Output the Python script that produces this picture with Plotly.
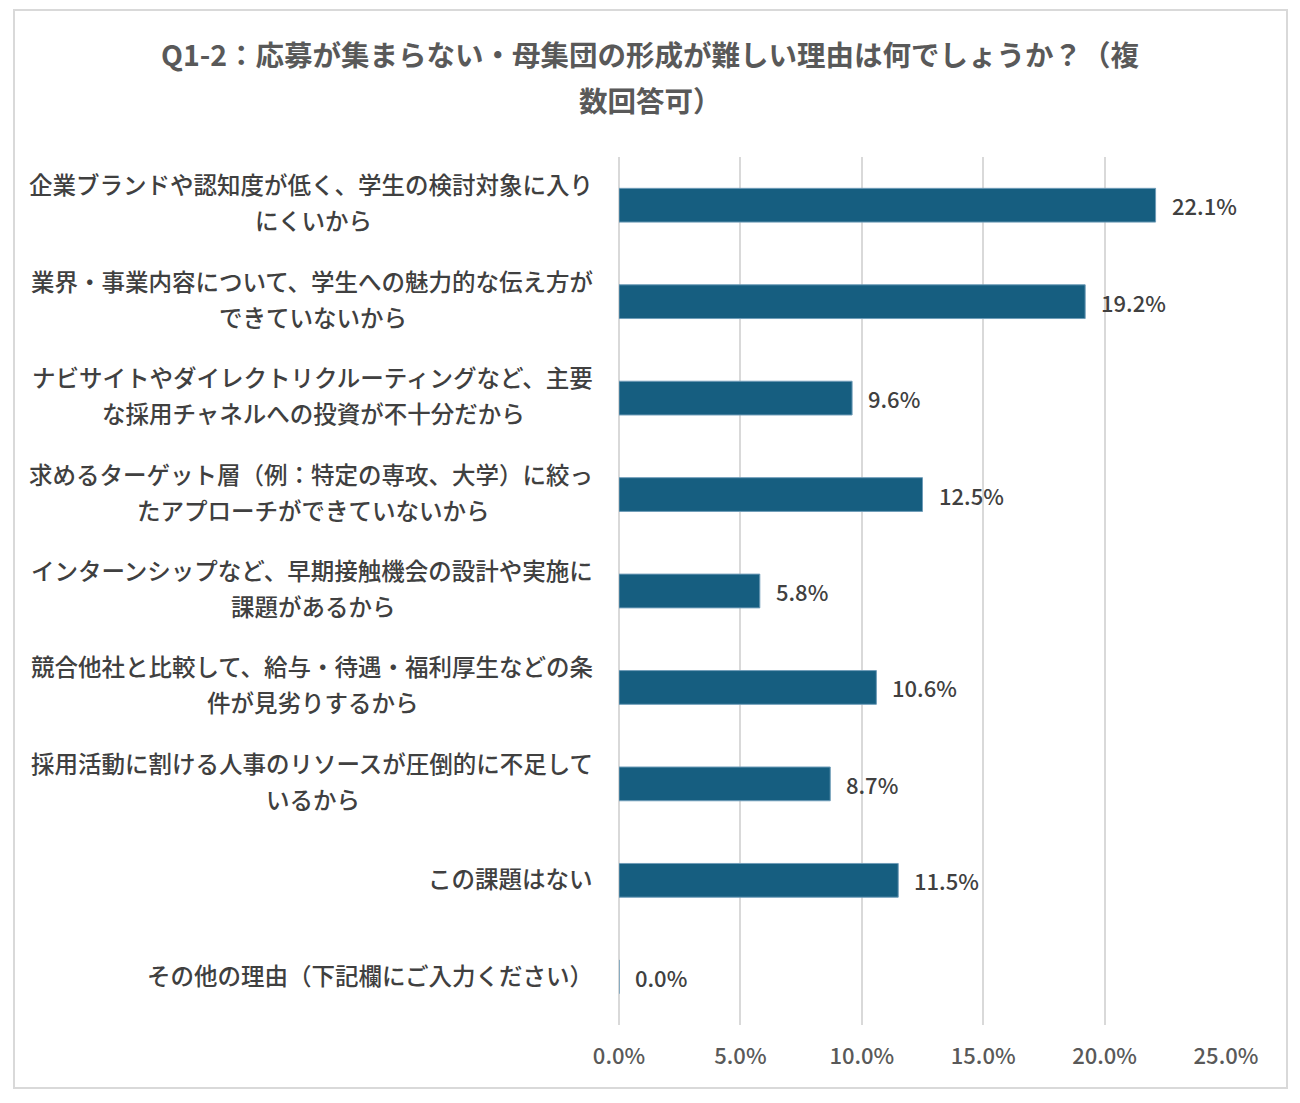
import plotly.graph_objects as go

# Data (top to bottom)
categories = [
    "企業ブランドや認知度が低く、学生の検討対象に入り<br>にくいから",
    "業界・事業内容について、学生への魅力的な伝え方が<br>できていないから",
    "ナビサイトやダイレクトリクルーティングなど、主要<br>な採用チャネルへの投資が不十分だから",
    "求めるターゲット層（例：特定の専攻、大学）に絞っ<br>たアプローチができていないから",
    "インターンシップなど、早期接触機会の設計や実施に<br>課題があるから",
    "競合他社と比較して、給与・待遇・福利厚生などの条<br>件が見劣りするから",
    "採用活動に割ける人事のリソースが圧倒的に不足して<br>いるから",
    "この課題はない",
    "その他の理由（下記欄にご入力ください）",
]
values = [22.1, 19.2, 9.6, 12.5, 5.8, 10.6, 8.7, 11.5, 0.0]
tick_vals = [0, 5, 10, 15, 20, 25]
tick_text = ["0.0%", "5.0%", "10.0%", "15.0%", "20.0%", "25.0%"]

title_lines = [
    "Q1-2：応募が集まらない・母集団の形成が難しい理由は何でしょうか？（複",
    "数回答可）",
]

FONT = "Noto Sans CJK JP"
BAR = "#165e80"
TXT = "#404040"

fig = go.Figure()
fig.add_trace(go.Bar(
    x=values,
    y=categories,
    orientation="h",
    width=0.35,
    marker=dict(color=BAR, line=dict(color="#6f9cb8", width=1)),
    hoverinfo="skip",
))

# value labels
for c, v in zip(categories, values):
    fig.add_annotation(
        x=v, y=c, xref="x", yref="y",
        text=f"{v:.1f}%", showarrow=False,
        xanchor="left", xshift=14,
        font=dict(family=FONT, size=22, color=TXT, weight=500),
    )

# category labels: first line right aligned, second line centred under it
label_font = dict(family=FONT, size=23.5, color=TXT, weight=500)
for c in categories:
    parts = c.split("<br>")
    if len(parts) == 1:
        fig.add_annotation(
            x=0, y=c, xref="paper", yref="y", text=c, showarrow=False,
            xanchor="right", xshift=-24, yshift=2, font=label_font,
        )
    else:
        fig.add_annotation(
            x=0, y=c, xref="paper", yref="y", text=parts[0], showarrow=False,
            xanchor="right", xshift=-24, yshift=21, font=label_font,
        )
        fig.add_annotation(
            x=0, y=c, xref="paper", yref="y", text=parts[1], showarrow=False,
            xanchor="center", xshift=-306, yshift=-15, font=label_font,
        )

# title, two lines
for line, ty in zip(title_lines, [1.1198, 1.0657]):
    fig.add_annotation(
        x=0.0511, y=ty, xref="paper", yref="paper",
        text=line, showarrow=False,
        xanchor="center", yanchor="middle",
        font=dict(family=FONT, size=28.5, color="#595959", weight=700),
    )

# chart border
fig.add_shape(
    type="rect", xref="paper", yref="paper",
    x0=-0.9967, x1=1.1005, y0=-0.0726, y1=1.1694,
    line=dict(color="#d9d9d9", width=2), fillcolor="rgba(0,0,0,0)",
    layer="below",
)

fig.update_layout(
    width=1300, height=1103,
    margin=dict(l=611, r=82, t=149, b=86),
    paper_bgcolor="white", plot_bgcolor="white",
    showlegend=False,
    xaxis=dict(
        range=[0, 25], tickvals=tick_vals, ticktext=tick_text,
        showgrid=True, gridcolor="#d9d9d9", gridwidth=2,
        zeroline=True, zerolinecolor="#d9d9d9", zerolinewidth=2,
        showline=False, ticks="",
        tickfont=dict(family=FONT, size=22, color="#595959", weight=500),
        ticklabelstandoff=16,
    ),
    yaxis=dict(
        autorange="reversed", showticklabels=False,
        showgrid=False, zeroline=False, showline=False, ticks="",
    ),
    bargap=0.65,
)

fig.write_html("out.html")
